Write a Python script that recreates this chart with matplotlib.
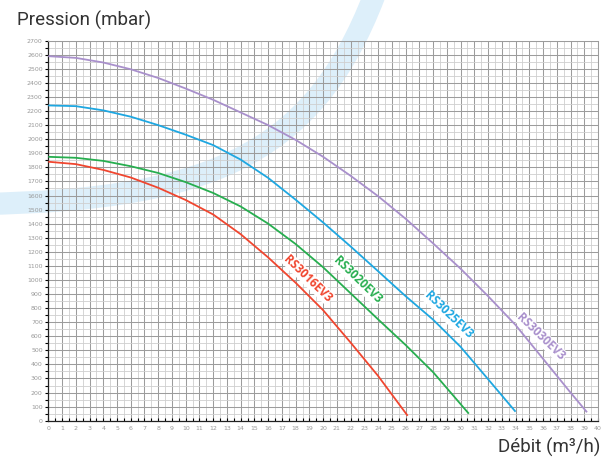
import numpy as np
import matplotlib
matplotlib.use("Agg")
import matplotlib.pyplot as plt
from matplotlib.path import Path
from matplotlib.patches import PathPatch
from matplotlib.ticker import MultipleLocator

# pump curves: flow (m3/h) -> pressure (mbar)
models = ["RS3016EV3", "RS3020EV3", "RS3025EV3", "RS3030EV3"]

q_3016 = [0, 2, 4, 6, 8, 10, 12, 14, 16, 18, 20, 22, 24, 26.15]
p_3016 = [1840, 1823, 1782, 1728, 1655, 1568, 1465, 1325, 1160, 980, 785, 555, 318, 35]

q_3020 = [0, 2, 4, 6, 8, 10, 12, 14, 16, 18, 20, 22, 24, 26, 28, 30.6]
p_3020 = [1875, 1868, 1846, 1808, 1760, 1695, 1618, 1522, 1400, 1255, 1090, 905, 720, 538, 345, 50]

q_3025 = [0, 2, 4, 6, 8, 10, 12, 14, 16, 18, 20, 22, 24, 26, 28, 30, 32, 34]
p_3025 = [2240, 2235, 2205, 2160, 2100, 2032, 1958, 1855, 1725, 1570, 1408, 1238, 1062, 885, 718, 525, 295, 64]

q_3030 = [0, 2, 4, 6, 8, 10, 12, 14, 16, 18, 20, 22, 24, 26, 28, 30, 32, 34, 36, 38, 39.2]
p_3030 = [2590, 2578, 2545, 2497, 2435, 2360, 2280, 2190, 2100, 1995, 1875, 1740, 1595, 1435,
          1260, 1080, 885, 680, 440, 200, 60]

colors = ["#f0462f", "#27ae4f", "#1ea7e1", "#a990cc"]

x_ticks = list(range(0, 41))
y_ticks = list(range(0, 2701, 100))

W, H = 605, 459
fig = plt.figure(figsize=(W / 100, H / 100), dpi=100)
fig.patch.set_facecolor("white")

# light blue watermark arc behind the grid (figure pixels, y from top)
def px(x, y):
    return (x / W, 1 - y / H)

verts = [px(-20, 204), px(220, 200), px(320, 150), px(380, -20)]
arc = Path(verts, [Path.MOVETO, Path.CURVE4, Path.CURVE4, Path.CURVE4])
fig.patches.append(PathPatch(arc, transform=fig.transFigure, facecolor="none",
                             edgecolor="#ddeffa", lw=16, capstyle="butt", zorder=0))

ax = fig.add_axes([48.3 / W, 1 - 420.7 / H, (598 - 48.3) / W, (420.7 - 40.7) / H])
ax.set_zorder(2)
ax.set_facecolor("none")
ax.set_xlim(0, 40)
ax.set_ylim(0, 2700)

ax.set_xticks(x_ticks)
ax.set_yticks(y_ticks)
ax.xaxis.set_minor_locator(MultipleLocator(0.5))
ax.yaxis.set_minor_locator(MultipleLocator(50))
ax.grid(which="major", color="#9c9c9c", lw=0.75)
ax.grid(which="minor", color="#cfcfcf", lw=0.6)
ax.set_axisbelow(True)

ax.tick_params(axis="x", which="both", direction="in", length=2.5, width=0.8,
               labelsize=4.5, labelcolor="#999999", pad=4)
ax.tick_params(axis="y", which="both", direction="out", length=2, width=0.8,
               labelsize=4.5, labelcolor="#999999", pad=2)
for s in ["top", "right"]:
    ax.spines[s].set_color("#9c9c9c")
    ax.spines[s].set_linewidth(0.75)
for s in ["left", "bottom"]:
    ax.spines[s].set_color("#222222")
    ax.spines[s].set_linewidth(0.9)

series = [(q_3016, p_3016), (q_3020, p_3020), (q_3025, p_3025), (q_3030, p_3030)]
for (q, p), c in zip(series, colors):
    ax.plot(q, p, color=c, lw=1.3, solid_capstyle="butt", solid_joinstyle="round", zorder=3)

# curve names along the lines
label_at = [(18.9, 1010), (22.5, 1000), (29.1, 750), (35.85, 595)]
for name, (lx, ly), c in zip(models, label_at, colors):
    ax.text(lx, ly, name, color=c, fontsize=8.5, fontweight="bold", family="Open Sans",
            rotation=-44, ha="center", va="center", zorder=4,
            bbox=dict(facecolor="white", edgecolor="none", pad=0.5))

fig.text(17 / W, 1 - 20 / H, "Pression (mbar)", fontsize=13.5, family="Roboto",
         color="#333333", va="center", ha="left")
fig.text(600 / W, 1 - 447 / H, "Débit (m³/h)", fontsize=13.5, family="Roboto",
         color="#333333", va="center", ha="right")

fig.savefig("out.png", dpi=100)
